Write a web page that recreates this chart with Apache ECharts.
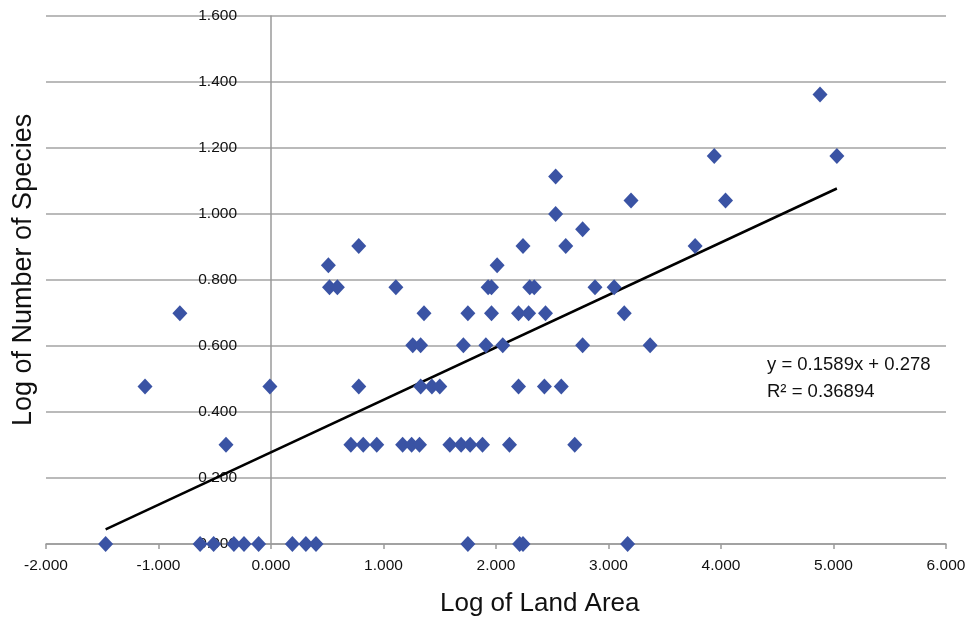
<!DOCTYPE html>
<html>
<head>
<meta charset="utf-8">
<script src="https://cdn.jsdelivr.net/npm/echarts@6/dist/echarts.min.js"></script>
<style>
html, body { margin: 0; padding: 0; background: #fff; }
#chart { width: 970px; height: 618px; }
</style>
</head>
<body>
<div id="chart"></div>
<script>
// log of land area (x) and log of number of species (y)
var landArea = [
    -1.47, -0.63, -0.51, -0.33, -0.24, -0.11, 0.19, 0.31, 0.40, 1.75, 2.21, 2.24, 3.17,
    -0.40, 0.71, 0.82, 0.94, 1.17, 1.25, 1.32, 1.59, 1.69, 1.77, 1.88, 2.12, 2.70,
    -1.12, -0.01, 0.78, 1.33, 1.43, 1.50, 2.20, 2.43, 2.58,
    1.26, 1.33, 1.71, 1.91, 2.06, 2.77, 3.37,
    -0.81, 1.36, 1.75, 1.96, 2.20, 2.29, 2.44, 3.14,
    0.52, 0.59, 1.11, 1.93, 1.96, 2.30, 2.34, 2.88, 3.05,
    0.51, 2.01,
    0.78, 2.24, 2.62, 3.77,
    2.77,
    2.53,
    3.20, 4.04,
    2.53,
    3.94, 5.03,
    4.88
];
var species = [
    0, 0, 0, 0, 0, 0, 0, 0, 0, 0, 0, 0, 0,
    0.301, 0.301, 0.301, 0.301, 0.301, 0.301, 0.301, 0.301, 0.301, 0.301, 0.301, 0.301, 0.301,
    0.477, 0.477, 0.477, 0.477, 0.477, 0.477, 0.477, 0.477, 0.477,
    0.602, 0.602, 0.602, 0.602, 0.602, 0.602, 0.602,
    0.699, 0.699, 0.699, 0.699, 0.699, 0.699, 0.699, 0.699,
    0.778, 0.778, 0.778, 0.778, 0.778, 0.778, 0.778, 0.778, 0.778,
    0.845, 0.845,
    0.903, 0.903, 0.903, 0.903,
    0.954,
    1.0,
    1.041, 1.041,
    1.114,
    1.176, 1.176,
    1.362
];
// linear trendline as printed on the chart
var slope = 0.1589;
var intercept = 0.278;
var rSquared = '0.36894';

var points = landArea.map(function (x, i) { return [x, species[i]]; });
var xMin = Math.min.apply(null, landArea);
var xMax = Math.max.apply(null, landArea);
var trend = [[xMin, slope * xMin + intercept], [xMax, slope * xMax + intercept]];

var font = '"Liberation Sans", Arial, sans-serif';
var gridLeft = 46, gridRight = 24;
// the vertical axis sits at x = 0, like in the spreadsheet chart
var zeroOffset = -(970 - gridLeft - gridRight) * 2 / 8;

var myChart = echarts.init(document.getElementById('chart'));
var option = {
    animation: false,
    grid: { left: gridLeft, right: gridRight, top: 16, bottom: 74, outerBoundsMode: 'none', containLabel: false },
    xAxis: {
        type: 'value',
        min: -2, max: 6, interval: 1,
        axisLine: { onZero: false, lineStyle: { color: '#9a9a9a', width: 1.5 } },
        axisTick: { show: true, length: 5, lineStyle: { color: '#9a9a9a', width: 1.5 } },
        axisLabel: {
            color: '#111', fontFamily: font, fontSize: 15.5, margin: 14,
            formatter: function (v) { return v.toFixed(3); }
        },
        splitLine: { show: false }
    },
    yAxis: {
        type: 'value',
        min: 0, max: 1.6, interval: 0.2,
        offset: zeroOffset,
        axisLine: { show: true, onZero: false, lineStyle: { color: '#9a9a9a', width: 1.5 } },
        axisTick: { show: false },
        axisLabel: {
            color: '#111', fontFamily: font, fontSize: 15.5, margin: 34,
            formatter: function (v) { return v.toFixed(3); }
        },
        splitLine: { show: true, lineStyle: { color: '#a3a3a3', width: 1.5 } }
    },
    graphic: [
        {
            type: 'text', left: 440, top: 591,
            style: { text: 'Log of Land Area', fontFamily: font, fontSize: 26, fill: '#111' }
        },
        {
            type: 'text', x: 10, y: 426, rotation: Math.PI / 2,
            style: { text: 'Log of Number of Species', fontFamily: font, fontSize: 27, fill: '#111' }
        },
        {
            type: 'text', left: 767, top: 355,
            style: { text: 'y = ' + slope + 'x + ' + intercept, fontFamily: font, fontSize: 18.5, fill: '#111' }
        },
        {
            type: 'text', left: 767, top: 382,
            style: { text: 'R² = ' + rSquared, fontFamily: font, fontSize: 18.5, fill: '#111' }
        }
    ],
    series: [
        {
            type: 'line',
            data: trend,
            symbol: 'none',
            lineStyle: { color: '#000', width: 2.5 },
            z: 2
        },
        {
            type: 'scatter',
            data: points,
            symbol: 'diamond',
            symbolSize: [15, 16],
            itemStyle: { color: '#3A53A4', opacity: 1 },
            z: 3
        }
    ]
};
myChart.setOption(option);
</script>
</body>
</html>
